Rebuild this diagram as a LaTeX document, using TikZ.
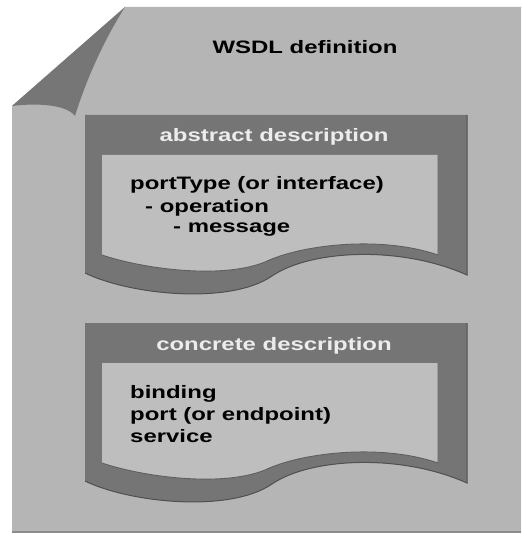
\documentclass[tikz,border=0pt]{standalone}
\usepackage{fontspec}
\setmainfont{Liberation Sans}[FakeStretch=1.33]
\definecolor{pagegray}{RGB}{181,181,181}
\definecolor{pageedge}{RGB}{140,140,140}
\definecolor{foldgray}{RGB}{118,118,118}
\definecolor{framegray}{RGB}{117,117,117}
\definecolor{frameedge}{RGB}{80,80,80}
\definecolor{sheetgray}{RGB}{190,190,190}
\definecolor{sheetedge}{RGB}{95,95,95}
\definecolor{headtext}{RGB}{236,236,236}
\tikzset{
  lbl/.style={font=\fontsize{18}{21}\selectfont\bfseries, inner sep=0pt},
  headlbl/.style={lbl, text=headtext, anchor=base},
  bodylbl/.style={lbl, text=black, anchor=base west},
  titlelbl/.style={lbl, text=black, anchor=base},
}
% one description sheet: dark frame, light inner sheet with a wavy lower edge
\newcommand{\descsheet}{%
  \fill[framegray] (85,115) -- (467,115) -- (467,275)
    .. controls (400,245) and (310,250) .. (272,276)
    .. controls (230,305) and (130,295) .. (85,273) -- cycle;
  \draw[frameedge, line width=1pt] (467,115) -- (467,275)
    .. controls (400,245) and (310,250) .. (272,276)
    .. controls (230,305) and (130,295) .. (85,273);
  \fill[sheetgray] (102,155) -- (438,155) -- (438,255)
    .. controls (380,235) and (300,245) .. (265,262)
    .. controls (220,280) and (140,268) .. (102,255) -- cycle;
  \draw[sheetedge, line width=0.9pt] (438,155) -- (438,255)
    .. controls (380,235) and (300,245) .. (265,262)
    .. controls (220,280) and (140,268) .. (102,255);
}
\begin{document}
\begin{tikzpicture}[x=1pt, y=-1pt]
\useasboundingbox (0,0) rectangle (521,534);
\fill[white] (0,0) rectangle (521,534);

% the page with its folded top-left corner
\fill[pagegray] (125,7) -- (521,7) -- (521,532) -- (12,532) -- (12,106) -- cycle;
\draw[pageedge, line width=1.2pt] (12,532) -- (521,532);
\fill[foldgray] (125,7) -- (12,106)
  .. controls (35,103) and (66,104) .. (75,116)
  .. controls (86,80) and (104,40) .. (125,7) -- cycle;

\node[titlelbl] (wsdl) at (305,54) {WSDL definition};

% abstract description
\descsheet
\node[headlbl] (abshead) at (274,142) {abstract description};
\node[bodylbl] (abs1) at (130,190) {portType (or interface)};
\node[bodylbl] (abs2) at (145,212) {- operation};
\node[bodylbl] (abs3) at (173,233) {- message};

% concrete description
\begin{scope}[shift={(0,208)}]
\descsheet
\node[headlbl] (conhead) at (274,142) {concrete description};
\node[bodylbl] (con1) at (130,190) {binding};
\node[bodylbl] (con2) at (130,212) {port (or endpoint)};
\node[bodylbl] (con3) at (130,234) {service};
\end{scope}
\end{tikzpicture}
\end{document}
